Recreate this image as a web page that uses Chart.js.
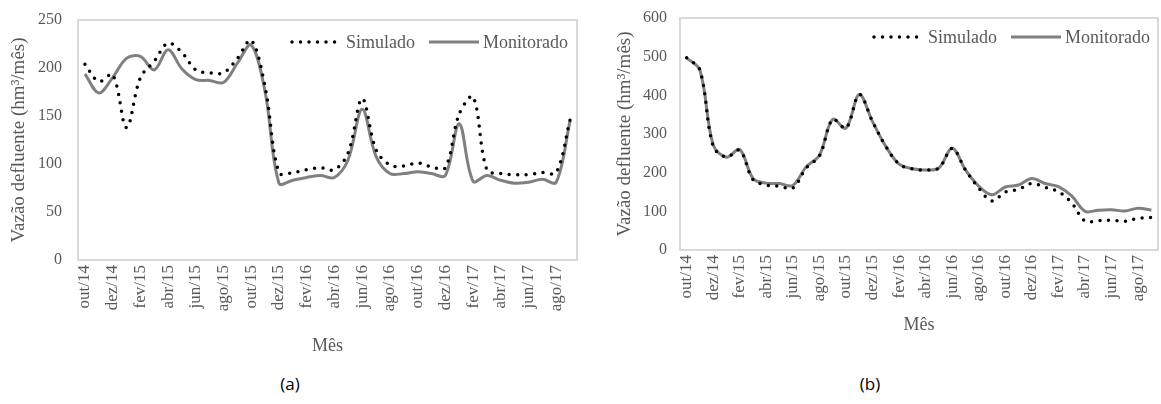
<!DOCTYPE html>
<html>
<head>
<meta charset="utf-8">
<script src="https://cdn.jsdelivr.net/npm/chart.js@4/dist/chart.umd.min.js"></script>
<style>
  body { margin: 0; background: #fff; width: 1161px; height: 404px; position: relative; overflow: hidden; }
  canvas { position: absolute; top: 0; }
  #chartA { left: 0; }
  #chartB { left: 580px; }
  .cap { position: absolute; top: 372px; width: 60px; text-align: center; font-family: "Open Sans", sans-serif; font-size: 17px; color: #000; }
</style>
</head>
<body>
<canvas id="chartA" width="580" height="357"></canvas>
<canvas id="chartB" width="581" height="336"></canvas>
<div class="cap" style="left:260px">(a)</div>
<div class="cap" style="left:840px">(b)</div>

<script>
const months = ["out/14", "nov/14", "dez/14", "jan/15", "fev/15", "mar/15", "abr/15", "mai/15", "jun/15",
  "jul/15", "ago/15", "set/15", "out/15", "nov/15", "dez/15", "jan/16", "fev/16", "mar/16", "abr/16",
  "mai/16", "jun/16", "jul/16", "ago/16", "set/16", "out/16", "nov/16", "dez/16", "jan/17", "fev/17",
  "mar/17", "abr/17", "mai/17", "jun/17", "jul/17", "ago/17", "set/17"];

// (a) values, hm³/mês
const simuladoA = [204, 186, 193, 138, 190, 207, 226, 216, 198, 195, 195, 210, 229, 180, 91, 91, 94, 96,
  94, 112, 168, 115, 99, 98, 101, 97, 96, 152, 170, 94, 90, 89, 89, 91, 91, 146];
const monitoradoA = [194, 174, 190, 210, 212, 198, 219, 199, 188, 187, 185, 205, 224, 175, 80, 83, 86, 88,
  86, 105, 157, 108, 90, 90, 92, 90, 88, 142, 82, 88, 83, 80, 81, 84, 81, 145];

// (b) values, hm³/mês
const simuladoB = [497, 465, 268, 240, 258, 182, 168, 165, 160, 212, 243, 338, 315, 402, 332, 268, 222, 210,
  207, 212, 263, 207, 160, 127, 150, 157, 172, 162, 151, 122, 75, 76, 77, 74, 82, 84];
const monitoradoB = [497, 465, 272, 240, 260, 185, 173, 172, 167, 215, 245, 338, 315, 402, 332, 268, 222, 210,
  207, 212, 263, 207, 165, 143, 163, 168, 185, 172, 164, 140, 100, 103, 104, 101, 108, 103];

const textColor = "#595959";
const serif = "'Liberation Serif', 'Times New Roman', serif";

// light grey frame round the plot area
const frame = {
  id: "frame",
  beforeDatasetsDraw(chart) {
    const { ctx, chartArea: a } = chart;
    ctx.save();
    ctx.strokeStyle = "#d9d9d9";
    ctx.lineWidth = 2;
    ctx.strokeRect(a.left, a.top, a.right - a.left, a.bottom - a.top);
    ctx.restore();
  }
};

// legend drawn inside the plot, top right, with real line samples
const insideLegend = {
  id: "insideLegend",
  afterDraw(chart, args, opts) {
    const { ctx, chartArea: a } = chart;
    const sample = 52, gapText = 4, gapItem = 12;
    ctx.save();
    ctx.font = "18px " + serif;
    ctx.textBaseline = "middle";
    const sets = chart.data.datasets;
    let total = 0;
    sets.forEach((ds, i) => {
      total += sample + gapText + ctx.measureText(ds.label).width + (i < sets.length - 1 ? gapItem : 0);
    });
    let x = a.right - opts.right - total;
    const y = a.top + opts.top;
    sets.forEach((ds) => {
      ctx.beginPath();
      ctx.setLineDash(ds.borderDash || []);
      ctx.lineCap = ds.borderCapStyle || "butt";
      ctx.lineWidth = ds.borderWidth;
      ctx.strokeStyle = ds.borderColor;
      ctx.moveTo(x + 2, y);
      ctx.lineTo(x + sample, y);
      ctx.stroke();
      ctx.setLineDash([]);
      x += sample + gapText;
      ctx.fillStyle = textColor;
      ctx.fillText(ds.label, x, y + 1);
      x += ctx.measureText(ds.label).width + gapItem;
    });
    ctx.restore();
  }
};

function makeChart(id, sim, mon, yMax, yStep, g) {
  return new Chart(document.getElementById(id), {
    type: "line",
    data: {
      labels: months,
      datasets: [
        {
          label: "Simulado",
          data: sim,
          borderColor: "#000",
          borderWidth: 3.5,
          borderDash: [0, 8.5],
          borderCapStyle: "round",
          pointRadius: 0,
          tension: 0.35,
          fill: false
        },
        {
          label: "Monitorado",
          data: mon,
          borderColor: "#808080",
          borderWidth: 3,
          pointRadius: 0,
          tension: 0.35,
          fill: false
        }
      ]
    },
    options: {
      responsive: false,
      animation: false,
      layout: { padding: { top: g.top, right: g.right, left: 0, bottom: 0 } },
      plugins: {
        tooltip: { enabled: false },
        legend: { display: false },
        insideLegend: { top: g.legTop, right: g.legRight }
      },
      scales: {
        x: {
          offset: true,
          grid: { display: false, drawTicks: false },
          border: { display: false },
          ticks: {
            autoSkip: false,
            maxRotation: 90,
            minRotation: 90,
            padding: 5,
            color: textColor,
            font: { family: serif, size: 17 },
            callback: function (value, index) {
              return index % 2 === 0 ? this.getLabelForValue(value) : "";
            }
          },
          title: {
            display: true,
            text: "Mês",
            color: textColor,
            padding: 0,
            font: { family: serif, size: 18 }
          },
          afterFit: (s) => {
            s.height = g.xHeight;
            s.paddingLeft = 0;
            s.paddingRight = 0;
          }
        },
        y: {
          min: 0,
          max: yMax,
          grid: { display: false, drawTicks: false },
          border: { display: false },
          ticks: {
            stepSize: yStep,
            padding: g.tickPad,
            color: textColor,
            font: { family: serif, size: 16 }
          },
          title: {
            display: true,
            text: "Vazão defluente (hm³/mês)",
            color: textColor,
            padding: { top: g.titlePad, bottom: 0 },
            font: { family: serif, size: 19 }
          },
          afterFit: (s) => {
            s.width = g.yWidth;
            s.paddingTop = 0;
            s.paddingBottom = 0;
          }
        }
      }
    },
    plugins: [frame, insideLegend]
  });
}

makeChart("chartA", simuladoA, monitoradoA, 250, 50,
  { top: 20, right: 3, xHeight: 97, yWidth: 78, tickPad: 16, titlePad: 8, legTop: 22, legRight: 9 });
makeChart("chartB", simuladoB, monitoradoB, 600, 100,
  { top: 18, right: 3, xHeight: 86, yWidth: 100, tickPad: 13, titlePad: 34, legTop: 19, legRight: 8 });
</script>
</body>
</html>
